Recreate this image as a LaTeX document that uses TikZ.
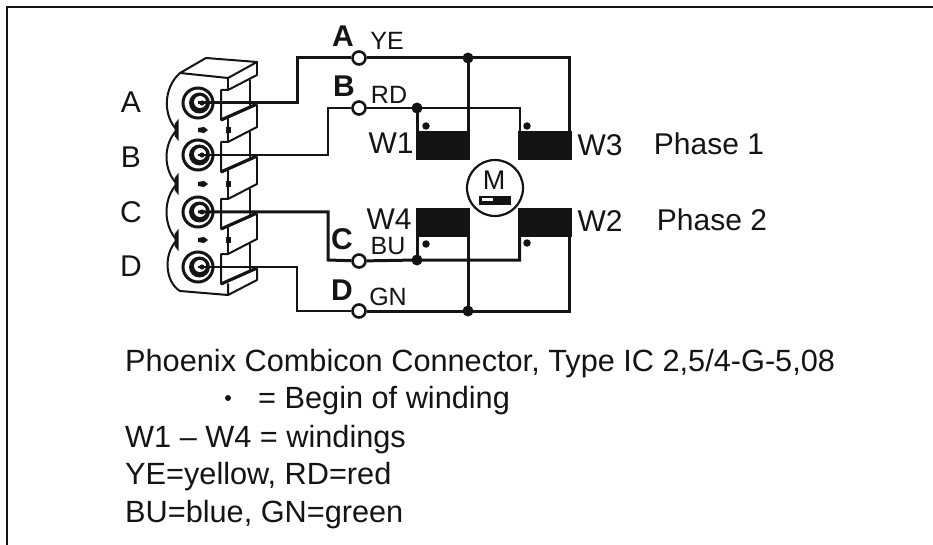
\documentclass[tikz,border=0pt]{standalone}
\usepackage{fontspec}
\setmainfont{Liberation Sans}
\definecolor{ink}{HTML}{141414}
\tikzset{
  x=1pt,y=-1pt,
  thin wire/.style={draw=ink,line width=2pt,line join=miter},
  thick wire/.style={draw=ink,line width=3pt,line join=miter},
  body line/.style={draw=ink,line width=2pt,line join=round,line cap=round},
  big/.style={font=\fontsize{30}{30}\selectfont,text=ink,inner sep=0pt,anchor=center},
  small/.style={font=\fontsize{25}{25}\selectfont,text=ink,inner sep=0pt,anchor=center},
  pinlet/.style={font=\bfseries\fontsize{30}{30}\selectfont,text=ink,inner sep=0pt,anchor=center},
  legend/.style={font=\fontsize{30.7}{30.7}\selectfont,text=ink,inner sep=0pt,anchor=base west},
  terminal/.style={circle,draw=ink,line width=2.6pt,fill=white,minimum size=13pt,inner sep=0pt},
  junction/.style={circle,fill=ink,minimum size=11pt,inner sep=0pt},
  winding/.style={rectangle,fill=ink,inner sep=0pt,minimum width=54pt,minimum height=29pt},
  begindot/.style={circle,fill=ink,minimum size=7.5pt,inner sep=0pt},
  socket/.style={circle,draw=ink,line width=3pt,fill=white,minimum size=30pt,inner sep=0pt},
}
\begin{document}
\begin{tikzpicture}
\useasboundingbox (0,0) rectangle (933,545);
% frame
\draw[draw=ink,line width=2pt] (7,545) -- (7,7.5) -- (933,7.5);
% connector body
\draw[body line,fill=white] (180,73) -- (206,58) -- (257,62) -- (228,78) -- cycle;
\draw[body line] (257,62) -- (257,75);
\draw[body line] (228,78) -- (228,90);
\draw[body line] (228,284) -- (228,295) -- (180,291)
  .. controls (165,282) and (163,254) .. (177,240)
  .. controls (163,226) and (163,198) .. (177,184)
  .. controls (163,170) and (163,144) .. (177,130)
  .. controls (163,116) and (163,88) .. (180,73);
\foreach \py/\nx in {103/155,155/212,212/267,267/321}{
  \draw[body line] (221,\py+17) -- (221,\py-13) -- (228,\py-13) -- (257,\py-28);
  \draw[body line] (250,\py-23) -- (250,\py+2);
  \draw[draw=ink,line width=3.2pt] (221,\py+17) -- (257,\py+1);
}
\foreach \py/\nx in {103/155,155/212,212/267}{
  \draw[body line] (257,\py+2) -- (257,\nx-28);
  \draw[body line] (228,\py+14) -- (228,\nx-13);
}
\draw[body line] (257,269) -- (257,280) -- (228,295);
% waist marks
\foreach \wy in {130,184,240}{
  \fill[ink] (178.5,\wy-11) -- (174.5,\wy-6) -- (174.5,\wy+6) -- (178.5,\wy+11) -- cycle;
  \fill[ink] (198,\wy-2) -- (204,\wy-3) -- (208,\wy) -- (204,\wy+3) -- (198,\wy+2) -- cycle;
  \fill[ink] (226,\wy-3) rectangle (231,\wy+3);
}
% sockets
\foreach \n/\py in {sa/103,sb/155,sc/212,sd/267}{
  \node[socket] (\n) at (198,\py) {};
  \fill[ink] (199.5,\py) circle (10.5);
  \fill[white] (200,\py-1) circle (6);
  \fill[ink] (202,\py) circle (2.6);
}
% terminals, junctions, corners
\node[terminal] (ta) at (359,58) {};
\node[terminal] (tb) at (359,108) {};
\node[terminal] (tc) at (359,261) {};
\node[terminal] (td) at (359,311) {};
\coordinate (ja0) at (468,58);
\coordinate (jb0) at (417,108);
\coordinate (jc0) at (417,260);
\coordinate (jd0) at (468,311);
\node[winding] (w1) at (443,146) {};
\node[winding] (w3) at (545,146) {};
\node[winding] (w4) at (443,222.5) {};
\node[winding] (w2) at (545,222.5) {};
% connectors
\draw[thick wire] (sa.center) -- (297,103) -- (297,58) -- (ta);
\draw[thin wire] (sb.center) -- (328,155) -- (328,108) -- (tb);
\draw[thick wire] (sc.center) -- (328,212) -- (328,260) -- (tc);
\draw[thin wire] (sd.center) -- (297,267) -- (297,311) -- (td);
\draw[thick wire] (ta) -- (ja0) -- (569,58) -- (569,132);
\draw[thick wire] (ja0) -- (468,132);
\draw[thin wire] (tb) -- (jb0) -- (519.5,108) -- (519.5,132);
\draw[thick wire] (jb0) -- (417,132);
\draw[thick wire] (tc) -- (jc0) -- (519.5,260) -- (519.5,237);
\draw[thick wire] (jc0) -- (417,237);
\draw[thick wire] (td) -- (jd0) -- (569,311) -- (569,237);
\draw[thick wire] (jd0) -- (468,237);
\node[junction] (ja) at (ja0) {};
\node[junction] (jb) at (jb0) {};
\node[junction] (jc) at (jc0) {};
\node[junction] (jd) at (jd0) {};
\node[begindot] (d1) at (426,126) {};
\node[begindot] (d3) at (527,126) {};
\node[begindot] (d4) at (426,244) {};
\node[begindot] (d2) at (527,243) {};
% motor
\node[circle,draw=ink,line width=2.2pt,fill=white,minimum size=56pt,inner sep=0pt] (motor) at (495,188) {};
\node[big,font=\fontsize{27}{27}\selectfont] (mlet) at (494,180) {M};
\fill[ink] (479,196) rectangle (511,205);
\fill[white] (482,198.5) rectangle (493,201.5);
% labels
\node[big] (la) at (131,102) {A};
\node[big] (lb) at (131,157) {B};
\node[big] (lc) at (131,212) {C};
\node[big] (ld) at (131,266) {D};
\node[pinlet] (pa) at (343,36) {A};
\node[pinlet] (pb) at (344,86) {B};
\node[pinlet] (pc) at (342,239) {C};
\node[pinlet] (pd) at (342,290) {D};
\node[small] (ye) at (387,41) {YE};
\node[small] (rd) at (389,95) {RD};
\node[small] (bu) at (388,246) {BU};
\node[small] (gn) at (388,297) {GN};
\node[big] (w1t) at (391,143) {W1};
\node[big] (w3t) at (600,145) {W3};
\node[big] (w4t) at (389,219) {W4};
\node[big] (w2t) at (600,221) {W2};
\node[big] (p1) at (709,144) {Phase 1};
\node[big] (p2) at (712,220) {Phase 2};
% legend
\node[legend] (l1) at (125,371) {Phoenix Combicon Connector, Type IC 2,5/4-G-5,08};
\node[begindot,minimum size=6pt] (l2d) at (228,398) {};
\node[legend] (l2) at (258,408) {= Begin of winding};
\node[legend] (l3) at (125,447) {W1 – W4 = windings};
\node[legend] (l4) at (125,484) {YE=yellow, RD=red};
\node[legend] (l5) at (125,522) {BU=blue, GN=green};
\end{tikzpicture}
\end{document}
